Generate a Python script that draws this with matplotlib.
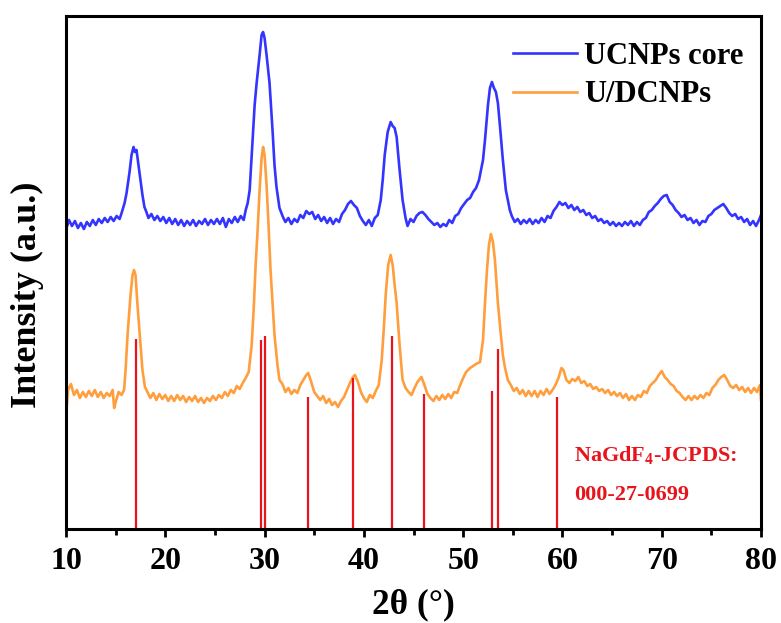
import numpy as np
import matplotlib
matplotlib.use("Agg")
import matplotlib.pyplot as plt

plt.rcParams['font.family'] = ['Liberation Serif', 'DejaVu Serif']
plt.rcParams['font.weight'] = 'bold'
plt.rcParams['mathtext.fontset'] = 'custom'
plt.rcParams['mathtext.rm'] = 'Liberation Serif:bold'
plt.rcParams['mathtext.bf'] = 'Liberation Serif:bold'

# UCNPs core pattern (2theta, intensity a.u.)
core_2theta = [10.0, 10.05, 10.3, 10.6, 10.9, 11.2, 11.5, 11.8, 12.1, 12.4, 12.7, 13.0, 13.3, 13.6, 13.9,
               14.2, 14.5, 14.8, 15.1, 15.4, 15.6, 15.9, 16.1, 16.4, 16.6, 16.8, 16.95, 17.1, 17.3, 17.45,
               17.7, 17.9, 18.1, 18.3, 18.6, 18.9, 19.2, 19.5, 19.8, 20.1, 20.4, 20.7, 21.0, 21.3, 21.6,
               21.9, 22.2, 22.5, 22.8, 23.1, 23.4, 23.7, 24.0, 24.3, 24.6, 24.9, 25.2, 25.5, 25.8, 26.1,
               26.4, 26.7, 27.0, 27.3, 27.6, 27.9, 28.1, 28.3, 28.5, 28.8, 29.0, 29.2, 29.5, 29.7, 29.85,
               30.0, 30.2, 30.5, 30.8, 31.0, 31.2, 31.5, 31.85, 32.1, 32.4, 32.7, 33.0, 33.3, 33.6, 33.9,
               34.2, 34.5, 34.8, 35.1, 35.4, 35.7, 36.0, 36.3, 36.6, 36.9, 37.2, 37.5, 37.8, 38.1, 38.4,
               38.7, 39.0, 39.3, 39.6, 39.9, 40.2, 40.5, 40.8, 41.1, 41.4, 41.7, 41.9, 42.1, 42.4, 42.7,
               42.9, 43.1, 43.3, 43.6, 43.9, 44.2, 44.4, 44.7, 45.0, 45.3, 45.6, 45.9, 46.2, 46.5, 46.8,
               47.1, 47.4, 47.7, 48.0, 48.3, 48.6, 48.9, 49.2, 49.5, 49.8, 50.1, 50.4, 50.7, 51.0, 51.3,
               51.6, 51.8, 52.0, 52.2, 52.5, 52.7, 52.9, 53.1, 53.3, 53.5, 53.7, 54.0, 54.3, 54.5, 54.7,
               54.9, 55.2, 55.5, 55.8, 56.1, 56.4, 56.7, 57.0, 57.3, 57.6, 57.9, 58.2, 58.5, 58.8, 59.1,
               59.4, 59.7, 60.0, 60.3, 60.6, 60.9, 61.2, 61.5, 61.8, 62.1, 62.4, 62.7, 63.0, 63.3, 63.6,
               63.9, 64.2, 64.5, 64.8, 65.1, 65.4, 65.7, 66.0, 66.3, 66.6, 66.9, 67.2, 67.5, 67.8, 68.1,
               68.4, 68.7, 69.0, 69.3, 69.6, 69.9, 70.2, 70.5, 70.8, 71.1, 71.4, 71.7, 72.0, 72.3, 72.6,
               72.9, 73.2, 73.5, 73.8, 74.1, 74.4, 74.7, 75.0, 75.3, 75.6, 75.9, 76.2, 76.5, 76.8, 77.1,
               77.4, 77.7, 78.0, 78.3, 78.6, 78.9, 79.2, 79.5, 79.8, 80.0]
core_int = [332, 301, 309, 303, 308, 301, 306, 300, 307, 303, 309, 304, 310, 306, 311,
            307, 312, 308, 313, 310, 316, 326, 336, 357, 374, 382, 377, 379, 364, 352,
            334, 322, 317, 311, 315, 309, 313, 308, 312, 306, 311, 305, 310, 304, 309,
            303, 308, 304, 309, 303, 308, 305, 310, 304, 309, 305, 310, 305, 311, 302,
            310, 306, 312, 307, 313, 309, 319, 326, 339, 389, 424, 446, 474, 494, 497,
            491, 474, 446, 399, 364, 342, 321, 312, 307, 311, 305, 310, 307, 314, 311,
            318, 315, 317, 310, 314, 308, 312, 306, 311, 305, 310, 307, 315, 319, 325,
            328, 324, 321, 313, 308, 304, 309, 303, 311, 314, 329, 349, 374, 397, 407,
            403, 401, 392, 359, 329, 311, 303, 310, 307, 313, 316, 317, 314, 310, 307,
            304, 306, 302, 305, 303, 309, 306, 313, 315, 321, 325, 329, 331, 337, 341,
            349, 359, 369, 389, 424, 441, 447, 441, 437, 426, 404, 369, 339, 329, 319,
            313, 307, 310, 305, 309, 306, 310, 305, 309, 306, 311, 307, 313, 311, 318,
            322, 327, 324, 326, 321, 324, 319, 322, 317, 319, 314, 316, 311, 313, 308,
            310, 306, 308, 304, 307, 303, 306, 303, 307, 304, 308, 303, 307, 304, 309,
            311, 317, 319, 323, 326, 330, 333, 334, 327, 324, 319, 316, 312, 314, 309,
            311, 306, 309, 304, 308, 307, 313, 315, 319, 321, 323, 325, 321, 316, 313,
            315, 310, 312, 307, 310, 304, 308, 303, 309, 314]

# U/DCNPs pattern
ud_2theta = [10.0, 10.02, 10.2, 10.5, 10.8, 11.1, 11.4, 11.7, 12.0, 12.3, 12.6, 12.9, 13.2, 13.5, 13.8,
             14.1, 14.4, 14.7, 14.85, 15.0, 15.3, 15.6, 15.85, 16.0, 16.2, 16.5, 16.7, 16.85, 17.0, 17.2,
             17.45, 17.7, 17.95, 18.2, 18.5, 18.8, 19.1, 19.4, 19.7, 20.0, 20.3, 20.6, 20.9, 21.2, 21.5,
             21.8, 22.1, 22.4, 22.7, 23.0, 23.3, 23.6, 23.9, 24.2, 24.5, 24.8, 25.1, 25.4, 25.7, 26.0,
             26.3, 26.6, 26.9, 27.2, 27.5, 27.8, 28.1, 28.4, 28.7, 28.9, 29.1, 29.3, 29.5, 29.7, 29.85,
             30.0, 30.2, 30.4, 30.6, 30.8, 31.0, 31.3, 31.5, 31.8, 32.1, 32.4, 32.7, 33.0, 33.3, 33.6,
             33.9, 34.2, 34.4, 34.7, 35.0, 35.3, 35.6, 35.9, 36.2, 36.5, 36.8, 37.1, 37.4, 37.7, 38.0,
             38.3, 38.6, 38.9, 39.1, 39.4, 39.7, 40.0, 40.3, 40.6, 40.9, 41.2, 41.5, 41.8, 42.0, 42.2,
             42.45, 42.7, 42.9, 43.1, 43.3, 43.6, 43.9, 44.2, 44.5, 44.8, 45.1, 45.4, 45.8, 46.1, 46.4,
             46.7, 47.0, 47.3, 47.6, 47.9, 48.2, 48.5, 48.8, 49.1, 49.4, 49.7, 50.0, 50.3, 50.7, 51.0,
             51.3, 51.7, 52.0, 52.2, 52.4, 52.6, 52.8, 53.0, 53.2, 53.5, 53.8, 54.0, 54.2, 54.5, 54.8,
             55.1, 55.4, 55.7, 56.0, 56.3, 56.6, 56.9, 57.2, 57.5, 57.8, 58.1, 58.4, 58.7, 59.0, 59.3,
             59.6, 59.9, 60.1, 60.4, 60.7, 61.0, 61.3, 61.6, 61.9, 62.2, 62.5, 62.8, 63.1, 63.4, 63.7,
             64.0, 64.3, 64.6, 64.9, 65.2, 65.5, 65.8, 66.1, 66.4, 66.7, 67.0, 67.3, 67.6, 67.9, 68.2,
             68.5, 68.8, 69.1, 69.4, 69.7, 70.0, 70.3, 70.6, 70.9, 71.2, 71.5, 71.8, 72.1, 72.4, 72.7,
             73.0, 73.3, 73.6, 73.9, 74.2, 74.5, 74.8, 75.1, 75.4, 75.7, 76.0, 76.3, 76.6, 76.9, 77.2,
             77.5, 77.8, 78.1, 78.4, 78.7, 79.0, 79.3, 79.6, 79.9, 80.0]
ud_int = [146, 114, 139, 145, 134, 139, 131, 137, 132, 138, 133, 139, 132, 137, 131,
          136, 133, 139, 121, 127, 137, 134, 139, 159, 194, 234, 254, 259, 254, 224,
          192, 159, 142, 137, 131, 136, 129, 135, 130, 134, 128, 133, 128, 134, 129,
          133, 127, 132, 128, 133, 127, 131, 126, 131, 128, 133, 129, 134, 131, 137,
          133, 139, 136, 143, 140, 146, 151, 157, 184, 219, 264, 299, 339, 371, 382,
          374, 344, 304, 259, 226, 194, 164, 149, 145, 137, 141, 135, 139, 136, 144,
          149, 154, 156, 147, 137, 133, 129, 133, 126, 130, 124, 127, 122, 128, 132,
          139, 146, 152, 154, 147, 137, 131, 127, 134, 131, 138, 144, 169, 199, 234,
          264, 274, 264, 244, 226, 184, 149, 141, 137, 134, 141, 147, 152, 144, 135,
          131, 128, 133, 129, 134, 130, 135, 131, 137, 136, 144, 151, 157, 161, 163,
          165, 167, 189, 226, 259, 284, 295, 287, 269, 226, 194, 174, 162, 149, 144,
          138, 141, 135, 139, 133, 138, 133, 138, 132, 138, 134, 140, 135, 139, 144,
          151, 161, 159, 149, 146, 150, 148, 152, 146, 148, 143, 145, 140, 142, 138,
          140, 136, 139, 134, 137, 133, 136, 131, 135, 129, 133, 129, 134, 132, 138,
          136, 143, 146, 149, 154, 158, 152, 149, 145, 143, 138, 136, 132, 129, 133,
          129, 133, 130, 134, 131, 136, 134, 141, 144, 149, 152, 154, 149, 143, 141,
          144, 139, 142, 137, 141, 136, 141, 137, 144, 129]

# NaGdF4 standard card lines
ref_2theta = [17.0, 29.6, 30.0, 34.4, 38.9, 42.8, 46.1, 52.9, 53.5, 59.5]
ref_int = [190, 189, 193, 132, 151, 193, 135, 138, 180, 132]

fig = plt.figure(figsize=(7.81, 6.23), dpi=100)
ax = fig.add_axes([66/781, 94/623, 695/781, 513/623])

ax.plot(core_2theta, core_int, color='#3434ff', lw=1.9, label='UCNPs core')
ax.plot(ud_2theta, ud_int, color='#ff9e3d', lw=1.9, label='U/DCNPs')
ax.vlines(ref_2theta, 0, ref_int, color='#e8141c', lw=1.6)

ax.set_xlim(10, 80)
ax.set_ylim(0, 513)
ax.set_yticks([])
ax.set_xticks(np.arange(10, 81, 10))
ax.set_xticks(np.arange(15, 80, 10), minor=True)
ax.tick_params(axis='x', which='major', direction='out', length=6, width=2, labelsize=23, pad=7)
ax.tick_params(axis='x', which='minor', direction='out', length=4, width=2)
for s in ax.spines.values():
    s.set_linewidth(2.2)

ax.set_xlabel('2θ (°)', fontsize=25.5, fontweight='bold', labelpad=9)
ax.set_ylabel('Intensity (a.u.)', fontsize=26, fontweight='bold')
ax.yaxis.set_label_coords(-0.032, 0.456)

ax.legend(loc='upper left', bbox_to_anchor=(0.643, 0.950), frameon=False, fontsize=22,
          handlelength=2.09, handletextpad=0.23, labelspacing=0.32, borderpad=0, borderaxespad=0)

ax.text(0.731, 73, r'NaGdF$_\mathbf{4}$-JCPDS:', transform=ax.get_yaxis_transform(),
        color='#e8141c', fontsize=16, fontweight='bold', va='center', ha='left')
ax.text(0.731, 34, '000-27-0699', transform=ax.get_yaxis_transform(),
        color='#e8141c', fontsize=16, fontweight='bold', va='center', ha='left')

fig.savefig('out.png', dpi=100)
